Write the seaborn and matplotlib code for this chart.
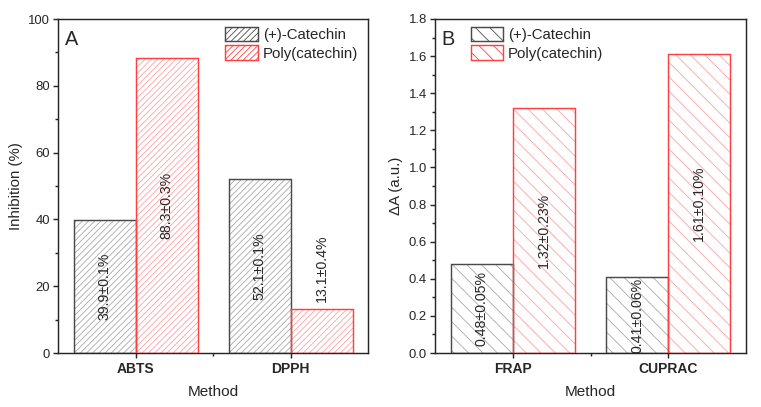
import matplotlib
matplotlib.use('Agg')
import matplotlib.pyplot as plt
from matplotlib.patches import Patch, Rectangle
from matplotlib.ticker import MultipleLocator, FixedLocator
import seaborn as sns
import pandas as pd

# ─── Data ─────────────────────────────────────────────────────────────────────
samples = ['(+)-Catechin', 'Poly(catechin)']

methods_a = ['ABTS', 'DPPH']
catechin_a = [39.9, 52.1]
poly_a = [88.3, 13.1]
catechin_a_sd = [0.1, 0.1]
poly_a_sd = [0.3, 0.4]

methods_b = ['FRAP', 'CUPRAC']
catechin_b = [0.48, 0.41]
poly_b = [1.32, 1.61]
catechin_b_sd = [0.05, 0.06]
poly_b_sd = [0.23, 0.10]

# ─── Style ────────────────────────────────────────────────────────────────────
sns.set_style('ticks')
plt.rcParams['font.family'] = ['Liberation Sans', 'DejaVu Sans']
plt.rcParams['hatch.linewidth'] = 0.45
plt.rcParams['axes.linewidth'] = 0.8

DPI = 130
EDGE = ['#4a4a4a', '#ff4040']
HATCH_COL = ['#a8a8a8', '#ffa0a0']


def make_df(methods, v1, v2):
    return pd.DataFrame({
        'Method': methods * 2,
        'value': list(v1) + list(v2),
        'sample': [samples[0]] * len(methods) + [samples[1]] * len(methods),
    })


def panel(ax, df, sds, fmt, hatch, ylim, major, minor, ylabel, letter,
          leg_x):
    sns.barplot(data=df, x='Method', y='value', hue='sample',
                palette=['white', 'white'], width=0.8, legend=False,
                ax=ax, zorder=2)
    vals = [df[df['sample'] == s]['value'].tolist() for s in samples]
    for i, cont in enumerate(ax.containers):
        for j, p in enumerate(cont.patches):
            # hatched fill in a lighter colour, outline on top
            p.set_hatch(hatch)
            p.set_edgecolor(HATCH_COL[i])
            p.set_linewidth(0)
            ax.add_patch(Rectangle(p.get_xy(), p.get_width(), p.get_height(),
                                   fill=False, ec=EDGE[i], lw=0.8, zorder=3))
            v = vals[i][j]
            label = fmt.format(v, sds[i][j])
            xc = p.get_x() + p.get_width() / 2
            if v / ylim[1] < 0.2:
                ax.annotate(label, (xc, v), xytext=(0, 4),
                            textcoords='offset points', rotation=90,
                            ha='center', va='bottom', fontsize=7.8, zorder=4)
            else:
                ax.text(xc, v / 2, label, rotation=90, ha='center',
                        va='center', fontsize=7.8, zorder=4)

    ax.set_xlim(-0.5, 1.5)
    ax.set_ylim(*ylim)
    ax.yaxis.set_major_locator(MultipleLocator(major))
    ax.yaxis.set_minor_locator(MultipleLocator(minor))
    ax.xaxis.set_minor_locator(FixedLocator([0.5]))
    ax.tick_params(axis='both', which='major', direction='out', length=3,
                   width=0.8, labelsize=7.3, pad=1.5)
    ax.tick_params(axis='both', which='minor', direction='out', length=1.6,
                   width=0.8)
    ax.tick_params(axis='x', labelsize=7.7, pad=2)
    for lbl in ax.get_xticklabels():
        lbl.set_fontweight('bold')
    for s in ax.spines.values():
        s.set_visible(True)
        s.set_linewidth(0.8)
    ax.set_xlabel('Method', fontsize=8.5, labelpad=5)
    ax.set_ylabel(ylabel, fontsize=8.3, labelpad=3)
    ax.text(0.022, 0.968, letter, transform=ax.transAxes, fontsize=11,
            ha='left', va='top')

    handles = [Patch(facecolor='white', edgecolor=EDGE[i], hatch=hatch,
                     lw=0.8, label=samples[i]) for i in range(2)]
    ax.legend(handles=handles, loc='upper left', bbox_to_anchor=(leg_x, 0.985),
              frameon=False, fontsize=8.3, handlelength=2.15, handleheight=1.1,
              handletextpad=0.35, labelspacing=0.2, borderpad=0.2,
              borderaxespad=0)


fig = plt.figure(figsize=(761 / DPI, 407 / DPI), dpi=DPI)
ax_a = fig.add_axes([58 / 761, 54 / 407, 310 / 761, 334 / 407])
ax_b = fig.add_axes([435 / 761, 54 / 407, 311 / 761, 334 / 407])

panel(ax_a, make_df(methods_a, catechin_a, poly_a),
      [catechin_a_sd, poly_a_sd], '{:.1f}±{:.1f}%', '///////',
      (0, 100), 20, 10, 'Inhibition (%)', 'A', 0.53)
panel(ax_b, make_df(methods_b, catechin_b, poly_b),
      [catechin_b_sd, poly_b_sd], '{:.2f}±{:.2f}%', '\\\\\\',
      (0, 1.8), 0.2, 0.1, 'ΔA (a.u.)', 'B', 0.105)

fig.savefig('out.png', dpi=DPI)
